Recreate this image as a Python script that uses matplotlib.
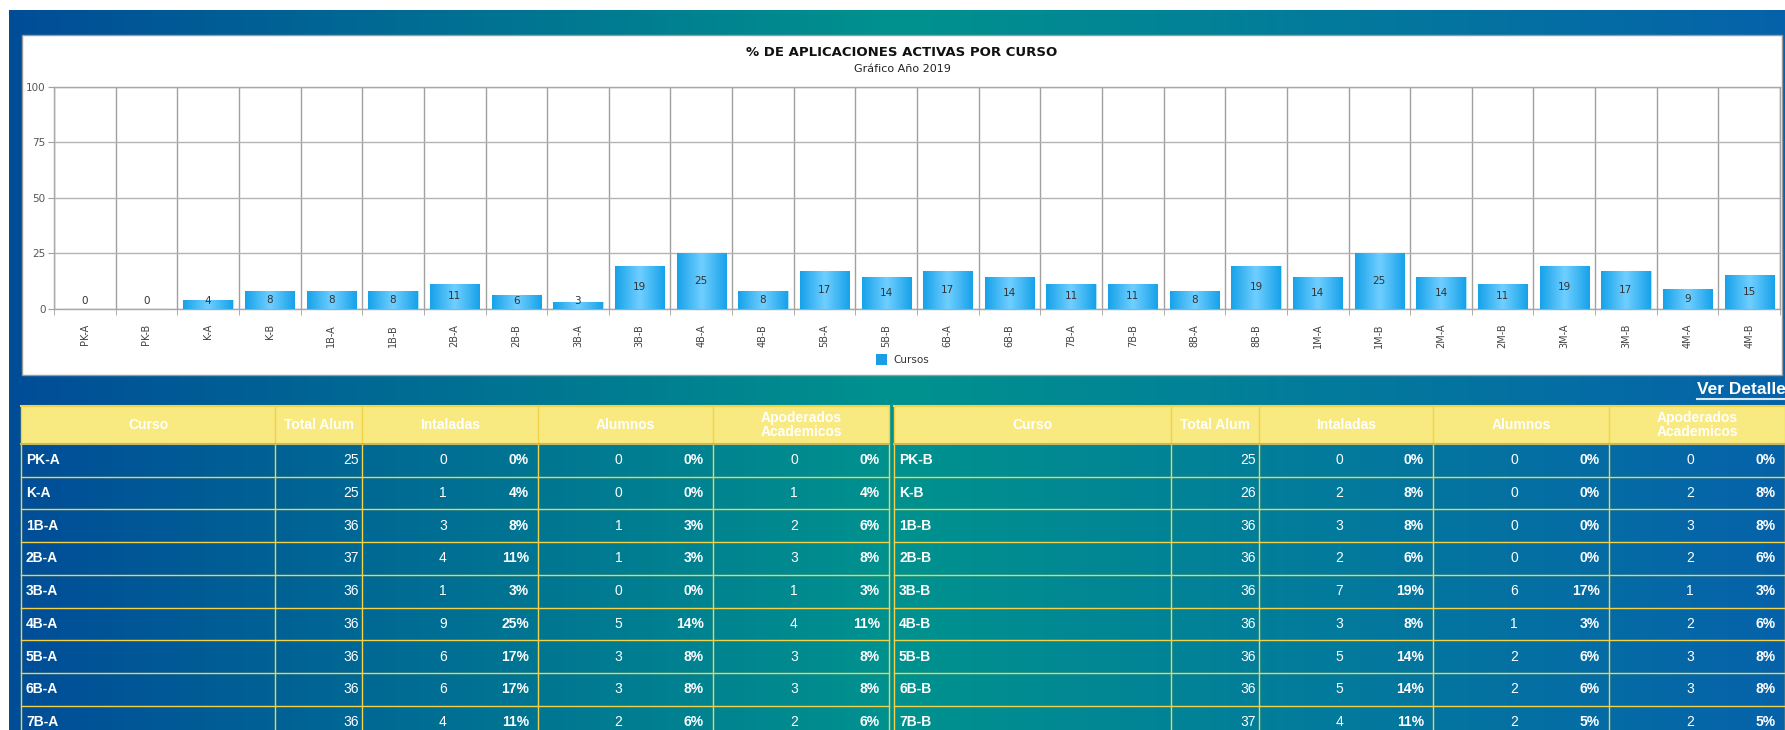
import numpy as np
import matplotlib
matplotlib.use('Agg')
import matplotlib.pyplot as plt
from matplotlib.patches import Rectangle
from matplotlib.colors import LinearSegmentedColormap

# datos del grafico
cursos = ['PK-A', 'PK-B', 'K-A', 'K-B', '1B-A', '1B-B', '2B-A', '2B-B', '3B-A', '3B-B',
          '4B-A', '4B-B', '5B-A', '5B-B', '6B-A', '6B-B', '7B-A', '7B-B', '8B-A', '8B-B',
          '1M-A', '1M-B', '2M-A', '2M-B', '3M-A', '3M-B', '4M-A', '4M-B']
porcentaje = [0, 0, 4, 8, 8, 8, 11, 6, 3, 19, 25, 8, 17, 14, 17, 14, 11, 11, 8, 19,
              14, 25, 14, 11, 19, 17, 9, 15]

titulo = '% DE APLICACIONES ACTIVAS POR CURSO'
subtitulo = 'Gráfico Año 2019'

# datos de las tablas
encabezado = ['Curso', 'Total Alum', 'Intaladas', 'Alumnos', 'Apoderados\nAcademicos']

cursos_a = ['PK-A', 'K-A', '1B-A', '2B-A', '3B-A', '4B-A', '5B-A', '6B-A', '7B-A']
total_a = [25, 25, 36, 37, 36, 36, 36, 36, 36]
inst_a = [0, 1, 3, 4, 1, 9, 6, 6, 4]
inst_pct_a = [0, 4, 8, 11, 3, 25, 17, 17, 11]
alum_a = [0, 0, 1, 1, 0, 5, 3, 3, 2]
alum_pct_a = [0, 0, 3, 3, 0, 14, 8, 8, 6]
apod_a = [0, 1, 2, 3, 1, 4, 3, 3, 2]
apod_pct_a = [0, 4, 6, 8, 3, 11, 8, 8, 6]

cursos_b = ['PK-B', 'K-B', '1B-B', '2B-B', '3B-B', '4B-B', '5B-B', '6B-B', '7B-B']
total_b = [25, 26, 36, 36, 36, 36, 36, 36, 37]
inst_b = [0, 2, 3, 2, 7, 3, 5, 5, 4]
inst_pct_b = [0, 8, 8, 6, 19, 8, 14, 14, 11]
alum_b = [0, 0, 0, 0, 6, 1, 2, 2, 2]
alum_pct_b = [0, 0, 0, 0, 17, 3, 6, 6, 5]
apod_b = [0, 2, 3, 2, 1, 2, 3, 3, 2]
apod_pct_b = [0, 8, 8, 6, 3, 6, 8, 8, 5]

W, H = 1785, 730
fig = plt.figure(figsize=(W / 100, H / 100), dpi=100, facecolor='white')

# fondo de la pagina (coordenadas en pixeles)
bg = fig.add_axes([0, 0, 1, 1])
bg.axis('off')
stops = [(0.0, (0, 77, 152)), (0.5, (0, 146, 142)), (1.0, (6, 98, 170))]
xs = np.linspace(0, 1, 600)
grad = np.stack([np.interp(xs, [s[0] for s in stops], [s[1][c] for s in stops]) for c in range(3)], axis=-1) / 255
bg.imshow(grad[None, :, :], extent=(9, W, H, 10), aspect='auto', zorder=0)
bg.set_xlim(0, W)
bg.set_ylim(H, 0)

# panel blanco del grafico
bg.add_patch(Rectangle((22, 35), 1760, 340, fc='white', ec='#9a9a9a', lw=1, zorder=1))
bg.text(902, 53, titulo, ha='center', va='center', fontsize=9.5, weight='bold', color='#111111', zorder=2)
bg.text(902, 69, subtitulo, ha='center', va='center', fontsize=8, color='#222222', zorder=2)
bg.add_patch(Rectangle((876, 354), 11, 11, fc='#1a9fe6', ec='none', zorder=2))
bg.text(893, 360, 'Cursos', ha='left', va='center', fontsize=7.5, color='#333333', zorder=2)

ax = fig.add_axes([54 / W, 1 - 308.5 / H, (1780 - 54) / W, 222 / H], zorder=3)
ax.set_facecolor('white')
x = np.arange(len(cursos))
bar_cmap = LinearSegmentedColormap.from_list('barra', ['#17a2ea', '#70cfff', '#17a2ea'])
bars = ax.bar(x, porcentaje, width=0.8, color='#1aa6ee', edgecolor='#a8e0ff', lw=0.8, zorder=3)
for xi, v, b in zip(x, porcentaje, bars):
    if v > 0:
        im = ax.imshow(np.linspace(0, 1, 64)[None, :], extent=(xi - 0.4, xi + 0.4, 0, v),
                       aspect='auto', cmap=bar_cmap, zorder=3.5)
        im.set_clip_path(b)
    ax.text(xi, max(v / 2, 3.5), str(v), ha='center', va='center', fontsize=7.5,
            color='#333333', zorder=5)

ax.set_xlim(-0.5, len(cursos) - 0.5)
ax.set_ylim(0, 100)
ax.set_xticks(x)
ax.set_xticklabels(cursos, rotation=90, fontsize=7, color='#444444')
ax.set_xticks(np.arange(-0.5, len(cursos), 1), minor=True)
ax.tick_params(axis='x', which='major', length=0, pad=11)
ax.tick_params(axis='x', which='minor', length=4, color='#a0a0a0')
ax.set_yticks([0, 25, 50, 75, 100])
ax.tick_params(axis='y', labelsize=7.5, labelcolor='#555555', length=4, color='#a0a0a0', pad=2)
ax.grid(which='minor', axis='x', color='#a0a0a0', lw=1, zorder=1)
ax.grid(which='major', axis='y', color='#b4b4b4', lw=1, zorder=1)
ax.set_axisbelow(True)
for s in ax.spines.values():
    s.set_color('#a8a8a8')
    s.set_linewidth(1)

# enlace
bg.text(1697, 390, 'Ver Detalle', ha='left', va='center', fontsize=12.5, weight='bold',
        color='white', family='Liberation Sans', zorder=2)
bg.plot([1697, W], [399, 399], color='#d8e8f6', lw=1.5, zorder=2)

# tablas
tfont = 'Liberation Sans'
amarillo = '#f2d24a'
head_top, head_bot, row_h = 406, 444, 32.7


def dibujar_tabla(edges, nombres, total, inst, inst_pct, alum, alum_pct, apod, apod_pct):
    left, right = edges[0], edges[-1]
    bg.add_patch(Rectangle((left, head_top), right - left, head_bot - head_top,
                           fc='#f8ea80', ec='none', zorder=2))
    for i, txt in enumerate(encabezado):
        cx = (edges[i] + edges[i + 1]) / 2
        bg.text(cx, (head_top + head_bot) / 2, txt, ha='center', va='center', fontsize=10,
                weight='bold', color='white', family=tfont, linespacing=0.95, zorder=4)
    n = len(nombres)
    bottom = head_bot + n * row_h
    for e in edges:
        bg.plot([e, e], [head_top, bottom], color=amarillo, lw=1, zorder=3)
    bg.plot([left, right], [head_top, head_top], color=amarillo, lw=1.5, zorder=3)
    bg.plot([left, right], [head_bot, head_bot], color='#c8b860', lw=1.5, zorder=3)
    for r in range(n):
        y0 = head_bot + r * row_h
        yc = y0 + row_h / 2
        bg.plot([left, right], [y0 + row_h, y0 + row_h], color=amarillo, lw=1, zorder=3)
        bg.text(edges[0] + 5, yc, nombres[r], ha='left', va='center', fontsize=10,
                weight='bold', color='white', family=tfont, zorder=4)
        bg.text(edges[2] - 3, yc, str(total[r]), ha='right', va='center', fontsize=10,
                color='white', family=tfont, zorder=4)
        pares = [(inst[r], inst_pct[r]), (alum[r], alum_pct[r]), (apod[r], apod_pct[r])]
        for k, (cnt, pct) in enumerate(pares):
            c0, c1 = edges[2 + k], edges[3 + k]
            bg.text(c0 + 0.46 * (c1 - c0), yc, str(cnt), ha='center', va='center', fontsize=10,
                    color='white', family=tfont, zorder=4)
            bg.text(c1 - 9, yc, f'{pct}%', ha='right', va='center', fontsize=10,
                    weight='bold', color='white', family=tfont, zorder=4)


dibujar_tabla([21, 275, 362, 538, 713, 889], cursos_a, total_a, inst_a, inst_pct_a,
              alum_a, alum_pct_a, apod_a, apod_pct_a)
dibujar_tabla([894, 1171, 1259, 1433, 1609, 1785], cursos_b, total_b, inst_b, inst_pct_b,
              alum_b, alum_pct_b, apod_b, apod_pct_b)

fig.savefig('out.png', dpi=100, facecolor='white')
